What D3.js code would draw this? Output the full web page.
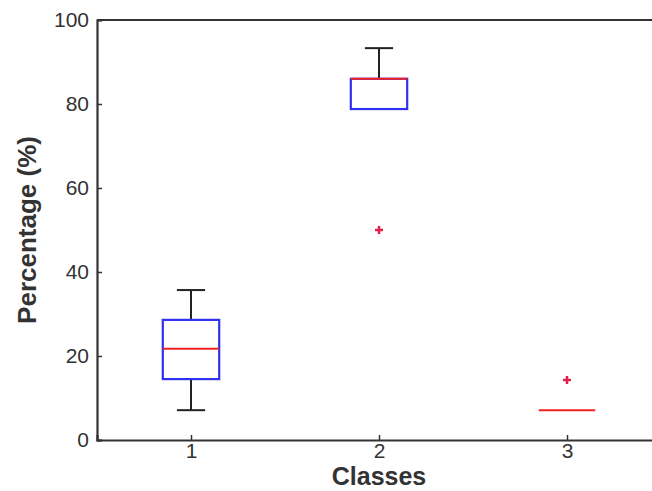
<!DOCTYPE html>
<html>
<head>
<meta charset="utf-8">
<script src="https://cdn.jsdelivr.net/npm/d3@7/dist/d3.min.js"></script>
<style>
  body { margin: 0; background: #fff; }
  svg { display: block; }
</style>
</head>
<body>
<div id="chart"></div>
<script>
// box plot values
var classes = [1, 2, 3]
var whiskerLow = [7.1, 78.8, 7.1]
var q1 = [14.5, 78.8, 7.1]
var median = [21.7, 86, 7.1]
var q3 = [28.6, 86, 7.1]
var whiskerHigh = [35.7, 93.3, 7.1]
var outliers = [[], [50], [14.3]]
var yTicks = [0, 20, 40, 60, 80, 100]

var width = 652,
  height = 491

var x = d3.scaleLinear().domain([0.5, 3.5]).range([97, 661])
var y = d3.scaleLinear().domain([0, 100]).range([440, 20])

var svg = d3.select("#chart").append("svg")
  .attr("width", width)
  .attr("height", height)
  .style("font-family", "Liberation Sans, Arial, sans-serif")

var boxW = 0.3, capW = 0.15
var data = classes.map((c, i) => ({
  c: c, lo: whiskerLow[i], q1: q1[i], med: median[i], q3: q3[i], hi: whiskerHigh[i], out: outliers[i]
}))

// axes
var yAxis = svg.append("g")
  .attr("transform", `translate(${x(0.5)},0)`)
  .call(d3.axisLeft(y).tickValues(yTicks).tickSize(-5).tickPadding(8))
var xAxis = svg.append("g")
  .attr("transform", `translate(0,${y(0)})`)
  .call(d3.axisBottom(x).tickValues(classes).tickSize(-5).tickPadding(3).tickFormat(d3.format("d")))

;[yAxis, xAxis].forEach(a => {
  a.select(".domain").attr("stroke", "#333").attr("stroke-width", 2.2)
  a.selectAll(".tick line").attr("stroke", "#333").attr("stroke-width", 1.5)
  a.selectAll(".tick text").attr("fill", "#333").style("font-size", "21px")
})
xAxis.selectAll(".tick text").attr("dy", "0.71em")

// top frame line
svg.append("line")
  .attr("x1", x(0.5)).attr("x2", x(3.5))
  .attr("y1", y(100)).attr("y2", y(100))
  .attr("stroke", "#333").attr("stroke-width", 2.2)

var g = svg.append("g")

// whiskers
g.selectAll(".wh-up").data(data.filter(d => d.hi > d.q3)).join("line")
  .attr("x1", d => x(d.c)).attr("x2", d => x(d.c))
  .attr("y1", d => y(d.q3)).attr("y2", d => y(d.hi))
  .attr("stroke", "#222").attr("stroke-width", 2)
g.selectAll(".wh-lo").data(data.filter(d => d.lo < d.q1)).join("line")
  .attr("x1", d => x(d.c)).attr("x2", d => x(d.c))
  .attr("y1", d => y(d.q1)).attr("y2", d => y(d.lo))
  .attr("stroke", "#222").attr("stroke-width", 2)

// caps
g.selectAll(".cap-hi").data(data.filter(d => d.hi > d.q3)).join("line")
  .attr("x1", d => x(d.c - capW / 2)).attr("x2", d => x(d.c + capW / 2))
  .attr("y1", d => y(d.hi)).attr("y2", d => y(d.hi))
  .attr("stroke", "#222").attr("stroke-width", 2)
g.selectAll(".cap-lo").data(data.filter(d => d.lo < d.q1)).join("line")
  .attr("x1", d => x(d.c - capW / 2)).attr("x2", d => x(d.c + capW / 2))
  .attr("y1", d => y(d.lo)).attr("y2", d => y(d.lo))
  .attr("stroke", "#222").attr("stroke-width", 2)

// boxes
g.selectAll("rect").data(data.filter(d => d.q3 > d.q1)).join("rect")
  .attr("x", d => x(d.c - boxW / 2))
  .attr("width", d => x(d.c + boxW / 2) - x(d.c - boxW / 2))
  .attr("y", d => y(d.q3))
  .attr("height", d => y(d.q1) - y(d.q3))
  .attr("fill", "none").attr("stroke", "#3030f0").attr("stroke-width", 2.2)

// medians
g.selectAll(".med").data(data).join("line")
  .attr("x1", d => x(d.c - boxW / 2)).attr("x2", d => x(d.c + boxW / 2))
  .attr("y1", d => y(d.med)).attr("y2", d => y(d.med))
  .attr("stroke", "#f02020").attr("stroke-width", 2)

// outliers
var pts = []
data.forEach(d => d.out.forEach(v => pts.push({ c: d.c, v: v })))
g.selectAll(".out").data(pts).join("path")
  .attr("transform", d => `translate(${x(d.c)},${y(d.v)})`)
  .attr("d", "M-4,0H4M0,-4V4")
  .attr("stroke", "#e0204a").attr("stroke-width", 2.5)

// axis titles
svg.append("text")
  .attr("x", x(2)).attr("y", 485)
  .attr("text-anchor", "middle")
  .attr("fill", "#333")
  .style("font-size", "25px").style("font-weight", "bold")
  .text("Classes")
svg.append("text")
  .attr("transform", `translate(36,${y(50)}) rotate(-90)`)
  .attr("text-anchor", "middle")
  .attr("fill", "#333")
  .style("font-size", "26px").style("font-weight", "bold")
  .text("Percentage (%)")
</script>
</body>
</html>
